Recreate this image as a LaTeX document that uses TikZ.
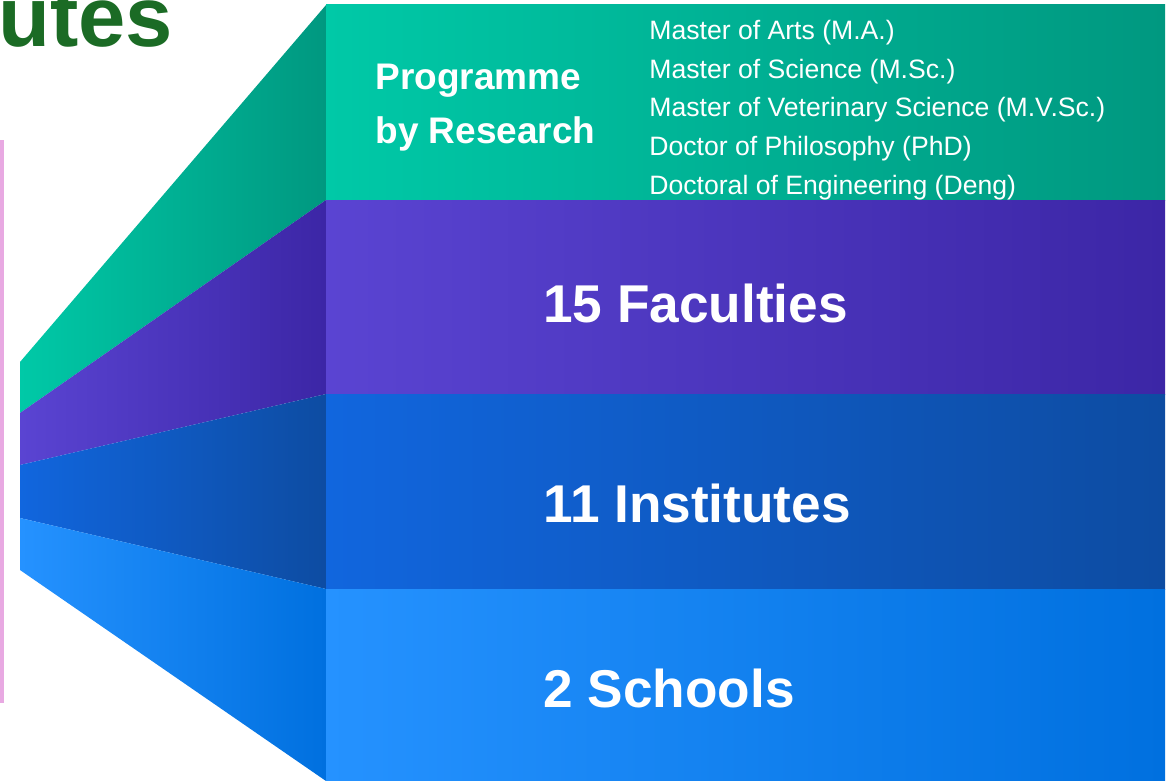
\documentclass[tikz,border=0pt]{standalone}
\usepackage{fontspec}
\setmainfont{Liberation Sans}
\usetikzlibrary{positioning}

\definecolor{grnL}{HTML}{00C9A7}
\definecolor{grnR}{HTML}{009880}
\definecolor{purL}{HTML}{5A44D2}
\definecolor{purR}{HTML}{3C26A6}
\definecolor{bluL}{HTML}{1166DE}
\definecolor{bluR}{HTML}{0D4CA2}
\definecolor{skyL}{HTML}{2592FF}
\definecolor{skyR}{HTML}{0070DF}
\definecolor{ttlgreen}{HTML}{1B6B25}
\definecolor{pinkbar}{HTML}{E8A9E2}

\begin{document}
\begin{tikzpicture}[x=0.5pt,y=-0.5pt,
      biglbl/.style={anchor=base west,inner sep=0pt,text=white,
        font=\fontsize{26.6}{32}\selectfont\bfseries},
      proglbl/.style={anchor=base west,inner sep=0pt,text=white,
        font=\fontsize{18.5}{27}\selectfont\bfseries},
      deglbl/.style={anchor=base west,inner sep=0pt,text=white,
        font=\fontsize{13.3}{19}\selectfont}]
			\useasboundingbox (0,0) rectangle (1173,781);
			% corners of the funnel
			\coordinate (L0) at (20,362); \coordinate (R0) at (326,5);
			\coordinate (L1) at (20,413); \coordinate (R1) at (326,200);
			\coordinate (L2) at (20,465); \coordinate (R2) at (326,394);
			\coordinate (L3) at (20,518); \coordinate (R3) at (326,589);
			\coordinate (L4) at (20,570); \coordinate (R4) at (326,781);
			\coordinate (E1) at (1165,200); \coordinate (E2) at (1165,394);
			\coordinate (E3) at (1165,589); \coordinate (E4) at (1165,781);
			% side faces
			\path[left color=grnL,right color=grnR] (L0) -- (R0) -- (R1) -- (L1) -- cycle;
			\path[left color=purL,right color=purR] (L1) -- (R1) -- (R2) -- (L2) -- cycle;
			\path[left color=bluL,right color=bluR] (L2) -- (R2) -- (R3) -- (L3) -- cycle;
			\path[left color=skyL,right color=skyR] (L3) -- (R3) -- (R4) -- (L4) -- cycle;
			% front faces
			\path[left color=grnL,right color=grnR] (R0) rectangle (E1);
			\path[left color=purL,right color=purR] (R1) rectangle (E2);
			\path[left color=bluL,right color=bluR] (R2) rectangle (E3);
			\path[left color=skyL,right color=skyR] (R3) rectangle (E4);
			\fill[pinkbar] (0,140) rectangle (3.5,703);
			\node[anchor=base west,inner sep=0pt,text=ttlgreen,
			  font=\fontsize{42.5}{50}\selectfont\bfseries] (ttl) at (-2,47) {utes};
			\node[proglbl] (prog) at (375,90) {Programme};
			\node[proglbl] (res) at (375,144) {by Research};
			\foreach \t [count=\i] in {Master of Arts (M.A.),Master of Science (M.Sc.),
			    Master of Veterinary Science (M.V.Sc.),Doctor of Philosophy (PhD),
			    Doctoral of Engineering (Deng)}
				\node[deglbl] (deg\i) at (649,{40+38.5*(\i-1)}) {\t};
			\node[biglbl] (fac) at (543,322) {15 Faculties};
			\node[biglbl] (inst) at (543,522) {11 Institutes};
			\node[biglbl] (sch) at (543,707) {2 Schools};
		\end{tikzpicture}
\end{document}
